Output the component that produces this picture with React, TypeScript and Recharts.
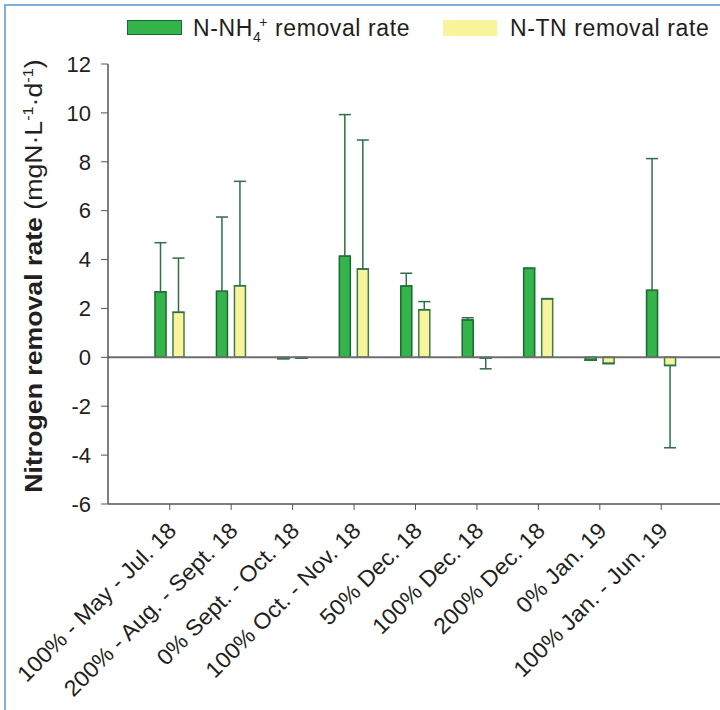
import { Bar, BarChart, ErrorBar, ReferenceLine, XAxis, YAxis } from "recharts";

// periods (loading rate - months)
const categories = [
	"100% - May - Jul. 18",
	"200% - Aug. - Sept. 18",
	"0% Sept. - Oct. 18",
	"100% Oct. - Nov. 18",
	"50% Dec. 18",
	"100% Dec. 18",
	"200% Dec. 18",
	"0% Jan. 19",
	"100% Jan. - Jun. 19",
];

// N-NH4+ removal rate (mgN/L/d) and one-sided error
const nh4Rate = [2.68, 2.7, -0.05, 4.14, 2.92, 1.53, 3.64, -0.12, 2.74];
const nh4Err = [2.01, 3.04, 0, 5.79, 0.52, 0.09, 0, 0, 5.39];

// N-TN removal rate and one-sided error
const tnRate = [1.84, 2.93, -0.03, 3.61, 1.95, -0.03, 2.4, -0.25, -0.33];
const tnErr = [2.22, 4.27, 0, 5.28, 0.33, 0.44, 0, 0, 3.37];

const yTicks = [-6, -4, -2, 0, 2, 4, 6, 8, 10, 12];

// error drawn away from zero only
const oneSided = (v: number, e: number) => (v >= 0 ? [0, e] : [e, 0]);

const rows = categories.map((cat, i) => ({
	cat,
	nh4: nh4Rate[i],
	tn: tnRate[i],
	nh4Err: oneSided(nh4Rate[i], nh4Err[i]),
	tnErr: oneSided(tnRate[i], tnErr[i]),
}));

const FONT = "'Liberation Sans', Arial, Helvetica, sans-serif";
const INK = "#231f20";
const GREEN = "#34b44a";
const GREEN_EDGE = "#17692f";
const YELLOW = "#f8f49b";
const YELLOW_EDGE = "#3f7d47";
const ERR = "#2d6f47";

function XTick(props: any) {
	const { x, y, payload } = props;
	return (
		<g transform={`translate(${x + 8},${y + 20}) rotate(-45) scale(1.06,1.02)`}>
			<text x={0} y={0} textAnchor="end" fontSize={22} fontFamily={FONT} fill={INK}>
				{payload.value}
			</text>
		</g>
	);
}

function YTitle() {
	return (
		<text
			transform="translate(42,276) rotate(-90) scale(1.16,1)"
			textAnchor="middle"
			fontFamily={FONT}
			fill={INK}
			fontSize={23}
		>
			<tspan fontWeight="bold">Nitrogen removal rate</tspan>
			<tspan>{"  (mgN·L"}</tspan>
			<tspan fontSize={14} dy={-9}>-1</tspan>
			<tspan dy={9}>·d</tspan>
			<tspan fontSize={14} dy={-9}>-1</tspan>
			<tspan dy={9}>)</tspan>
		</text>
	);
}

function LegendBox() {
	const text = {
		position: "absolute" as const,
		top: 15,
		fontSize: 23,
		fontFamily: FONT,
		color: INK,
		lineHeight: "26px",
		whiteSpace: "nowrap" as const,
		letterSpacing: 0.6,
	};
	return (
		<div style={{ position: "absolute", left: 0, top: 0, width: 720, height: 60 }}>
			<div style={{ position: "absolute", left: 127, top: 20, width: 53, height: 13, background: GREEN, border: `1.5px solid ${GREEN_EDGE}` }} />
			<span style={{ ...text, left: 193 }}>
				N-NH
				<span style={{ fontSize: 14, position: "relative", top: 6 }}>4</span>
				<span style={{ fontSize: 14, position: "relative", top: -9, marginLeft: -2 }}>+</span> removal rate
			</span>
			<div style={{ position: "absolute", left: 443, top: 20, width: 54, height: 16, background: YELLOW }} />
			<span style={{ ...text, left: 510 }}>N-TN removal rate</span>
		</div>
	);
}

export default function App() {
	return (
		<div style={{ position: "absolute", left: 0, top: 0, width: 720, height: 710, background: "#fff", overflow: "hidden" }}>
			<div
				style={{
					position: "absolute",
					left: 4,
					top: 4,
					width: 730,
					height: 720,
					borderLeft: "2px solid #7eb0d9",
					borderTop: "2px solid #7eb0d9",
				}}
			/>
			<LegendBox />
			<div style={{ position: "absolute", left: 0, top: 0 }}>
				<BarChart
					width={720}
					height={710}
					data={rows}
					margin={{ top: 64, right: 0, left: 8, bottom: 176 }}
					barSize={11}
					barGap={7}
				>
					<XAxis
						dataKey="cat"
						interval={0}
						height={30}
						padding={{ left: 31, right: 28 }}
						tickSize={6}
						stroke="#555"
						axisLine={{ stroke: "#555", strokeWidth: 1.5 }}
						tick={<XTick />}
					/>
					<YAxis
						domain={[-6, 12]}
						ticks={yTicks}
						width={100}
						tickSize={7}
						tickMargin={10}
						stroke="#555"
						axisLine={{ stroke: "#555", strokeWidth: 1.5 }}
						tick={{ fontSize: 22, fontFamily: FONT, fill: INK }}
						label={{ content: <YTitle /> }}
					/>
					<Bar dataKey="nh4" fill={GREEN} stroke={GREEN_EDGE} strokeWidth={1.5} isAnimationActive={false}>
						<ErrorBar dataKey="nh4Err" direction="y" width={6} stroke={ERR} strokeWidth={1.5} isAnimationActive={false} />
					</Bar>
					<Bar dataKey="tn" fill={YELLOW} stroke={YELLOW_EDGE} strokeWidth={1.5} isAnimationActive={false}>
						<ErrorBar dataKey="tnErr" direction="y" width={6} stroke={ERR} strokeWidth={1.5} isAnimationActive={false} />
					</Bar>
					<ReferenceLine y={0} stroke="#6e6e6e" strokeWidth={2} />
				</BarChart>
			</div>
		</div>
	);
}
